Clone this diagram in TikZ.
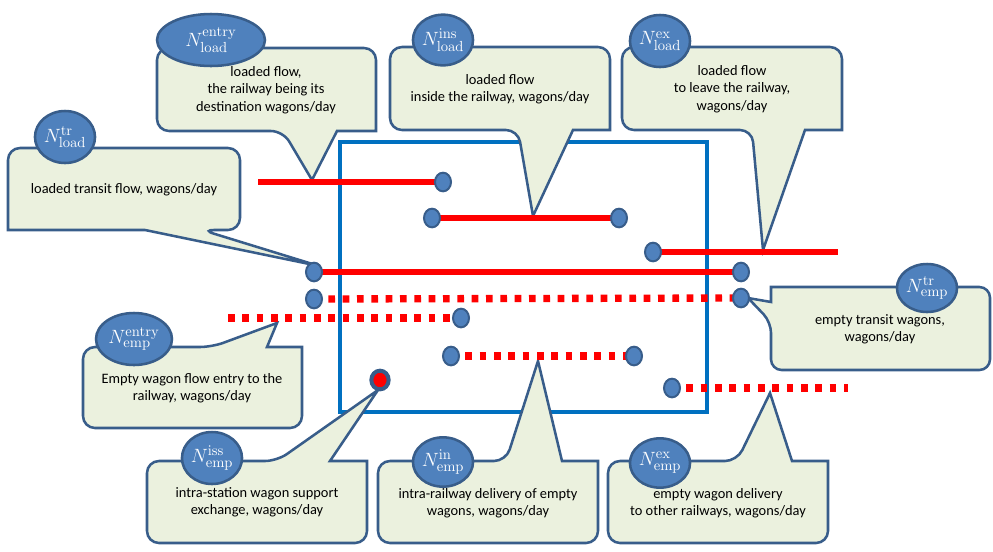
\documentclass[tikz,border=0pt]{standalone}
\usepackage[no-math]{fontspec}
\setmainfont{Carlito}
\usetikzlibrary{shapes.geometric,calc}
\definecolor{boxfill}{HTML}{EBF1DE}
\definecolor{boxline}{HTML}{385D8A}
\definecolor{badgefill}{HTML}{4F81BD}
\definecolor{framecol}{HTML}{0070C0}
\tikzset{
  callout/.style={fill=boxfill,draw=boxline,line width=1.9pt,line join=miter},
  badge/.style={ellipse,fill=badgefill,draw=boxline,line width=1.9pt,inner sep=0pt,
    text=white,font=\fontsize{15}{18}\selectfont},
  dot/.style={ellipse,fill=badgefill,draw=boxline,line width=1.5pt,
    minimum width=12pt,minimum height=14pt,inner sep=0pt},
  flow/.style={red,line width=5pt},
  emptyflow/.style={red,line width=5.5pt,dash pattern=on 5pt off 5.75pt},
  lbl/.style={align=center,font=\fontsize{10.8}{13}\selectfont}
}
\newcommand*{\Nflow}[2]{$N^{\mathrm{#1}}_{\mathrm{#2}}$}

\begin{document}
\begin{tikzpicture}[x=0.75pt,y=-0.75pt]
\useasboundingbox (0,0) rectangle (993,551);
\draw[framecol,line width=3pt] (340,142) rectangle (707,412);
% free ends of the flows and the tips of the callouts
\coordinate (entryLs) at (258,182);
\coordinate (exLe) at (838,252);
\coordinate (entryEs) at (228,318);
\coordinate (exEe) at (848,388);
\coordinate (tipB) at (312,180);
\coordinate (tipC) at (533,216);
\coordinate (tipD) at (763,250);
\coordinate (tipF) at (277,323);
\coordinate (tipH) at (538,361);
\coordinate (tipI) at (770,393);
\foreach \n/\x/\y in {entryL/443/182,insLa/432/218,insLb/619/218,exLa/653/252,
    trLa/314/272,trLb/741/272,trEa/314/299,trEb/741/298,entryE/461/318,
    inEa/451/356,inEb/634/356,exEa/672/388}
  \coordinate (\n) at (\x,\y);
\coordinate (issE) at (380,380);
% callouts
\draw[callout] ($(trLa)+(5,-6)$) -- (145,230) -- (8,230) [rounded corners=9pt] -- (8,148)
  -- (240,148) -- (240,230) -- (202,230) [sharp corners] -- cycle;
\draw[callout] (tipB) -- (337,131) -- (376,131) [rounded corners=9pt] -- (376,48)
  -- (157,48) -- (157,131) -- (283,131) [sharp corners] -- cycle;
\draw[callout] (tipC) -- (573,130) -- (610,130) [rounded corners=9pt] -- (610,47)
  -- (390,47) -- (390,130) -- (518,130) [sharp corners] -- cycle;
\draw[callout] (tipD) -- (805,130) -- (842,130) [rounded corners=9pt] -- (842,47)
  -- (622,47) -- (622,130) -- (752,130) [sharp corners] -- cycle;
\draw[callout] ($(trEb)+(7,0)$) -- (771,302) -- (771,287) [rounded corners=8pt] -- (990,287)
  -- (990,370) -- (771,370) -- (771,322) [sharp corners] -- cycle;
\draw[callout] (tipF) -- (267,347) -- (302,347) [rounded corners=9pt] -- (302,428)
  -- (83,428) -- (83,347) -- (212,347) [sharp corners] -- cycle;
\draw[callout] ($(issE)+(-2,10)$) -- (330,461) -- (367,461) [rounded corners=9pt] -- (367,543)
  -- (147,543) -- (147,461) -- (277,461) [sharp corners] -- cycle;
\draw[callout] (tipH) -- (562,461) -- (598,461) [rounded corners=9pt] -- (598,543)
  -- (378,543) -- (378,461) -- (506,461) [sharp corners] -- cycle;
\draw[callout] (tipI) -- (792,461) -- (828,461) [rounded corners=9pt] -- (828,543)
  -- (608,543) -- (608,461) -- (737,461) [sharp corners] -- cycle;
% flows
\draw[flow] (entryLs) -- (entryL);
\draw[flow] (insLa) -- (insLb);
\draw[flow] (exLa) -- (exLe);
\draw[flow] (trLa) -- (trLb);
\draw[emptyflow] (trEa) -- (trEb);
\draw[emptyflow] (entryEs) -- (entryE);
\draw[emptyflow] (inEa) -- (inEb);
\draw[emptyflow] (exEa) -- (exEe);
\foreach \n in {entryL,insLa,insLb,exLa,trLa,trLb,trEa,trEb,entryE,inEa,inEb,exEa}
  \node[dot] at (\n) {};
\node[dot,fill=red,line width=3pt,minimum width=13pt,minimum height=14pt] at (issE) {};
% badges
\node[badge,minimum width=42pt,minimum height=39pt] (bTrLoad) at (65,137) {\Nflow{tr}{load}};
\node[badge,minimum width=81pt,minimum height=39pt] (bEntryLoad) at (211,40) {\Nflow{entry}{load}};
\node[badge,minimum width=43pt,minimum height=38pt] (bInsLoad) at (443,40) {\Nflow{ins}{load}};
\node[badge,minimum width=43pt,minimum height=39pt] (bExLoad) at (660,41) {\Nflow{ex}{load}};
\node[badge,minimum width=43pt,minimum height=36pt] (bTrEmp) at (927,288) {\Nflow{tr}{emp}};
\node[badge,minimum width=57pt,minimum height=39pt] (bEntryEmp) at (134,339) {\Nflow{entry}{emp}};
\node[badge,minimum width=43pt,minimum height=39pt] (bIssEmp) at (212,458) {\Nflow{iss}{emp}};
\node[badge,minimum width=43pt,minimum height=37pt] (bInEmp) at (443,462) {\Nflow{in}{emp}};
\node[badge,minimum width=43pt,minimum height=37pt] (bExEmp) at (660,463) {\Nflow{ex}{emp}};
% texts
\node[lbl] (tTrLoad) at (124,190) {loaded transit flow, wagons/day};
\node[lbl] (tEntryLoad) at (266,90) {loaded flow,\\the railway being its\\destination wagons/day};
\node[lbl] (tInsLoad) at (500,89) {loaded flow\\inside the railway, wagons/day};
\node[lbl] (tExLoad) at (732,89) {loaded flow\\to leave the railway,\\wagons/day};
\node[lbl] (tTrEmp) at (880,329) {empty transit wagons,\\wagons/day};
\node[lbl] (tEntryEmp) at (192,388) {Empty wagon flow entry to the\\railway, wagons/day};
\node[lbl] (tIssEmp) at (257,502) {intra-station wagon support\\exchange, wagons/day};
\node[lbl] (tInEmp) at (488,503) {intra-railway delivery of empty\\wagons, wagons/day};
\node[lbl] (tExEmp) at (718,503) {empty wagon delivery\\to other railways, wagons/day};
\end{tikzpicture}
\end{document}
